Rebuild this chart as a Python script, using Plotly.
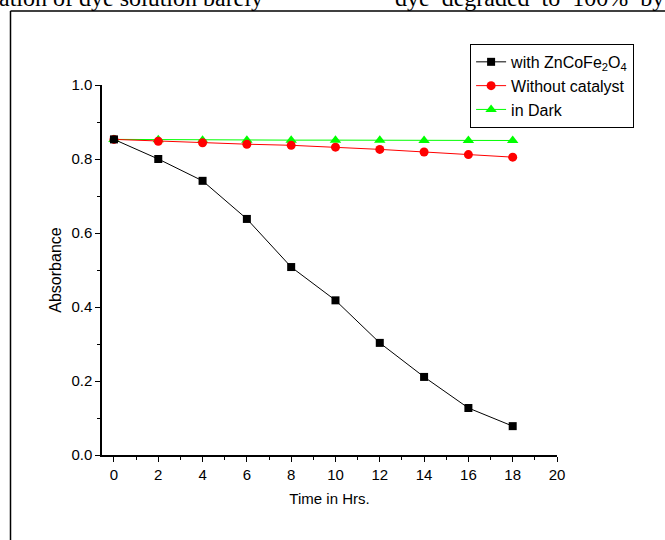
import plotly.graph_objects as go

time_hrs = [0, 2, 4, 6, 8, 10, 12, 14, 16, 18]
with_catalyst = [0.853, 0.800, 0.741, 0.638, 0.508, 0.418, 0.303, 0.211, 0.127, 0.078]
without_catalyst = [0.853, 0.848, 0.844, 0.840, 0.837, 0.832, 0.826, 0.819, 0.812, 0.805]
in_dark = [0.853, 0.852, 0.851, 0.851, 0.851, 0.851, 0.851, 0.850, 0.850, 0.850]

series_names = ["with ZnCoFe<sub>2</sub>O<sub>4</sub>", "Without catalyst", "in Dark"]
x_ticks = list(range(0, 21, 2))
y_ticks = [0, 0.2, 0.4, 0.6, 0.8, 1.0]
y_tick_labels = ["0.0", "0.2", "0.4", "0.6", "0.8", "1.0"]

SANS = "Arial, Liberation Sans, sans-serif"

fig = go.Figure()
fig.add_trace(go.Scatter(x=time_hrs, y=in_dark, name=series_names[2], mode="lines+markers",
                         line=dict(color="#00ff00", width=1),
                         marker=dict(symbol="triangle-up", size=10, color="#00ff00")))
fig.add_trace(go.Scatter(x=time_hrs, y=without_catalyst, name=series_names[1], mode="lines+markers",
                         line=dict(color="#ff0000", width=1),
                         marker=dict(symbol="circle", size=9, color="#ff0000")))
fig.add_trace(go.Scatter(x=time_hrs, y=with_catalyst, name=series_names[0], mode="lines+markers",
                         line=dict(color="#000000", width=1),
                         marker=dict(symbol="square", size=8, color="#000000")))

fig.update_layout(
    width=665, height=540,
    margin=dict(l=102, r=108, t=85, b=85),
    paper_bgcolor="white", plot_bgcolor="white",
    font=dict(family=SANS, size=15, color="black"),
    showlegend=True,
    legend=dict(x=0.809, y=1.111, xanchor="left", yanchor="top",
                bordercolor="black", borderwidth=1, bgcolor="white",
                font=dict(family=SANS, size=16, color="black"),
                traceorder="reversed", tracegroupgap=0, itemsizing="trace", itemwidth=30),
    xaxis=dict(range=[-0.54, 20], tickmode="array", tickvals=x_ticks,
               ticks="outside", ticklen=5, tickwidth=1, tickcolor="black",
               tickfont=dict(family=SANS, size=15, color="black"),
               showline=True, linecolor="black", linewidth=1.5, showgrid=False, zeroline=False,
               minor=dict(ticks="outside", tickvals=list(range(1, 20, 2)), ticklen=3, tickcolor="black"),
               title=dict(text="Time in Hrs.", font=dict(family=SANS, size=15, color="black"), standoff=12)),
    yaxis=dict(range=[0, 1.0], tickmode="array", tickvals=y_ticks, ticktext=y_tick_labels,
               ticks="outside", ticklen=5, tickwidth=1, tickcolor="black",
               tickfont=dict(family=SANS, size=15, color="black"),
               showline=True, linecolor="black", linewidth=1.5, showgrid=False, zeroline=False,
               minor=dict(ticks="outside", tickvals=[0.1, 0.3, 0.5, 0.7, 0.9], ticklen=3, tickcolor="black"),
               title=dict(text="Absorbance", font=dict(family=SANS, size=16, color="black"), standoff=6)),
)

# document frame lines
fig.add_shape(type="line", xref="paper", yref="paper", x0=(10.5 - 102) / 455, x1=(665 - 102) / 455,
              y0=(455 - 11) / 370, y1=(455 - 11) / 370, line=dict(color="black", width=1.5))
fig.add_shape(type="line", xref="paper", yref="paper", x0=(10.5 - 102) / 455, x1=(10.5 - 102) / 455,
              y0=(455 - 11) / 370, y1=(455 - 545) / 370, line=dict(color="black", width=1.5))

# cut-off document text at top
serif = dict(family="Liberation Serif, Times New Roman, serif", size=24, color="black")
fig.add_annotation(xref="paper", yref="paper", x=(-3 - 102) / 455, y=(455 - 13) / 370,
                   xanchor="left", yanchor="bottom", showarrow=False,
                   text="ation of dye solution barely", font=serif)
fig.add_annotation(xref="paper", yref="paper", x=(393 - 102) / 455, y=(455 - 13) / 370,
                   xanchor="left", yanchor="bottom", showarrow=False,
                   text="dye\u00a0\u00a0degraded\u00a0\u00a0to\u00a0\u00a0100%\u00a0\u00a0by", font=serif)

fig.write_html("out.html")
